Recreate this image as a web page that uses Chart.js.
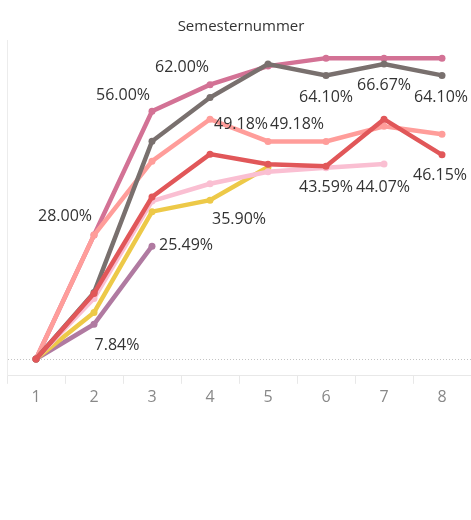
<!DOCTYPE html>
<html>
<head>
<meta charset="utf-8">
<script src="https://cdn.jsdelivr.net/npm/chart.js@4.4.1/dist/chart.umd.min.js"></script>
<style>
  html, body { margin: 0; padding: 0; background: #fff; overflow: hidden; }
  #wrap { width: 475px; height: 520px; position: relative; }
</style>
</head>
<body>
<div id="wrap"><canvas id="chart"></canvas></div>
<script>
// ===== Data (share in %) =====
const semesters = ['1', '2', '3', '4', '5', '6', '7', '8'];

const pinkVals      = [0, 28.00, 56.00, 62.00, 66.2, 68.0, 68.0, 68.0];
const grayVals      = [0, 15.0, 49.2, 59.1, 66.67, 64.10, 66.67, 64.10];
const salmonVals    = [0, 28.00, 44.7, 54.2, 49.18, 49.18, 52.6, 50.8];
const redVals       = [0, 14.8, 36.6, 46.3, 44.0, 43.59, 54.2, 46.15];
const lightPinkVals = [0, 13.7, 35.7, 39.6, 42.3, 43.2, 44.07, null];
const yellowVals    = [0, 10.5, 33.3, 35.90, 43.4, null, null, null];
const purpleVals    = [0, 7.84, 25.49, null, null, null, null, null];

// which points carry a value label: [dataset, index, dx, dy]
const labelSpots = [
    ['pink', 1, -29, -19],
    ['pink', 2, -29, -16],
    ['pink', 3, -28, -17],
    ['gray', 5, 0, 22],
    ['gray', 6, 0, 21],
    ['gray', 7, -1, 22],
    ['salmon', 4, -27, -17],
    ['salmon', 5, -29, -17],
    ['red', 5, 0, 21],
    ['lightPink', 6, -1, 23],
    ['red', 7, -2, 21],
    ['yellow', 3, 29, 19],
    ['purple', 2, 34, -1],
    ['purple', 1, 23, 21]
];

const FONT = "'Open Sans', Lato, sans-serif";

function line(key, data, color, order) {
    return {
        key, data, order,
        borderColor: color,
        backgroundColor: color,
        pointBackgroundColor: color,
        borderWidth: 4.5,
        pointRadius: 3.5,
        pointBorderWidth: 0,
        tension: 0,
        spanGaps: false
    };
}

const datasets = [
    line('red', redVals, '#e15759', 1),
    line('gray', grayVals, '#79706e', 2),
    line('salmon', salmonVals, '#ff9d9a', 3),
    line('pink', pinkVals, '#d37295', 4),
    line('lightPink', lightPinkVals, '#fabfd2', 5),
    line('yellow', yellowVals, '#edc948', 6),
    line('purple', purpleVals, '#b07aa1', 7)
];

// ===== Zero reference line =====
const zeroLine = {
    id: 'zeroLine',
    beforeDatasetsDraw(chart) {
        const { ctx, chartArea, scales } = chart;
        const y = Math.round(scales.y.getPixelForValue(0)) + 0.5;
        ctx.save();
        ctx.strokeStyle = '#c4c4c4';
        ctx.lineWidth = 1;
        ctx.setLineDash([1, 2]);
        ctx.beginPath();
        ctx.moveTo(chartArea.left + 1, y);
        ctx.lineTo(chartArea.right, y);
        ctx.stroke();
        ctx.restore();
    }
};

// ===== Value labels =====
const valueLabels = {
    id: 'valueLabels',
    afterDatasetsDraw(chart) {
        const { ctx } = chart;
        ctx.save();
        ctx.font = `16px ${FONT}`;
        ctx.fillStyle = '#333';
        ctx.textAlign = 'center';
        ctx.textBaseline = 'middle';
        labelSpots.forEach(([key, idx, dx, dy]) => {
            const di = datasets.findIndex(d => d.key === key);
            const pt = chart.getDatasetMeta(di).data[idx];
            const v = datasets[di].data[idx];
            ctx.fillText(v.toFixed(2) + '%', pt.x + dx, pt.y + dy);
        });
        ctx.restore();
    }
};

new Chart(document.getElementById('chart'), {
    type: 'line',
    data: { labels: semesters, datasets },
    plugins: [zeroLine, valueLabels],
    options: {
        responsive: true,
        maintainAspectRatio: false,
        animation: false,
        layout: { padding: { left: 7, right: 0, top: 0, bottom: 109 } },
        plugins: {
            legend: { display: false },
            tooltip: { enabled: false },
            title: {
                display: true,
                text: 'Semesternummer',
                color: '#333',
                font: { family: FONT, size: 15, weight: 'normal' },
                padding: { top: 18, bottom: 4 }
            }
        },
        scales: {
            x: {
                offset: true,
                grid: { display: true, offset: true, drawOnChartArea: false, drawTicks: true, tickLength: 8, color: '#e8e8e8' },
                border: { display: true, color: '#e8e8e8' },
                ticks: { color: '#888', font: { family: FONT, size: 16 }, padding: 4 }
            },
            y: {
                min: -3.8,
                max: 72.1,
                ticks: { display: false },
                grid: { display: false, drawTicks: false },
                border: { display: true, color: '#ececec' }
            }
        }
    }
});
</script>
</body>
</html>
